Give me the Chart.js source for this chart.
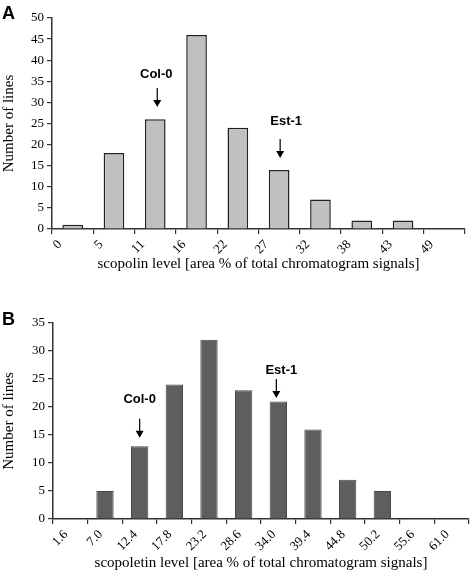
<!DOCTYPE html>
<html>
<head>
<meta charset="utf-8">
<script src="https://cdn.jsdelivr.net/npm/chart.js@4.4.1/dist/chart.umd.min.js"></script>
<style>
  html, body { margin: 0; padding: 0; background: #fff; }
  .panel { position: relative; width: 472px; }
  .letter { position: absolute; left: 2px; font: bold 18px "Liberation Sans", Arial, sans-serif; color: #000; line-height: 18px; }
</style>
</head>
<body>
<div class="panel" style="height:285px">
  <div class="letter" style="top:4px">A</div>
  <canvas id="chartA" width="472" height="285"></canvas>
</div>
<div class="panel" style="height:298px">
  <div class="letter" style="top:25px">B</div>
  <canvas id="chartB" width="472" height="298"></canvas>
</div>
<script>
// scopolin histogram (panel A)
const scopolinBins = ['0', '5', '11', '16', '22', '27', '32', '38', '43', '49'];
const scopolinCounts = [1, 18, 26, 46, 24, 14, 7, 2, 2, 0];
const scopolinTicks = [0, 5, 10, 15, 20, 25, 30, 35, 40, 45, 50];

// scopoletin histogram (panel B)
const scopoletinBins = ['1.6', '7.0', '12.4', '17.8', '23.2', '28.6', '34.0', '39.4', '44.8', '50.2', '55.6', '61.0'];
const scopoletinCounts = [0, 5, 13, 24, 32, 23, 21, 16, 7, 5, 0, 0];
const scopoletinTicks = [0, 5, 10, 15, 20, 25, 30, 35];

const serif = '"Liberation Serif", "Times New Roman", serif';

// arrows with accession names above the bars
const arrowPlugin = {
    id: 'arrows',
    afterDatasetsDraw(chart, args, opts) {
        const ctx = chart.ctx;
        const xs = chart.scales.x, ys = chart.scales.y;
        (opts.items || []).forEach(a => {
            const x = xs.getPixelForValue(a.bin + 0.5) + (a.dx || 0);
            const tip = ys.getPixelForValue(a.tip);
            const top = tip - 19;
            ctx.save();
            ctx.strokeStyle = '#000';
            ctx.fillStyle = '#000';
            ctx.lineWidth = 1.2;
            ctx.beginPath();
            ctx.moveTo(x, top);
            ctx.lineTo(x, tip - 6);
            ctx.stroke();
            ctx.beginPath();
            ctx.moveTo(x - 4, tip - 7);
            ctx.lineTo(x + 4, tip - 7);
            ctx.lineTo(x, tip);
            ctx.closePath();
            ctx.fill();
            ctx.font = 'bold 13px "Liberation Sans", Arial, sans-serif';
            ctx.textAlign = 'center';
            ctx.textBaseline = 'middle';
            ctx.fillText(a.text, x + (a.tx || 0), ys.getPixelForValue(a.label));
            ctx.restore();
        });
    }
};

function makeHist(id, bins, counts, yTicks, title, fill, border, bw, arrows, pad) {
    const points = counts.map((v, i) => ({ x: i + 0.5, y: v }));
    const yMax = yTicks[yTicks.length - 1];
    new Chart(document.getElementById(id), {
        type: 'bar',
        data: {
            datasets: [{
                data: points,
                backgroundColor: fill,
                borderColor: border,
                borderWidth: bw,
                categoryPercentage: 1,
                barPercentage: 0.5
            }]
        },
        plugins: [arrowPlugin],
        options: {
            responsive: false,
            animation: false,
            layout: { padding: { top: pad.top, right: pad.right, bottom: pad.bottom, left: 0 } },
            plugins: {
                legend: { display: false },
                tooltip: { enabled: false },
                arrows: { items: arrows }
            },
            scales: {
                x: {
                    type: 'linear',
                    offset: false,
                    min: 0,
                    max: bins.length,
                    afterFit(s) { s.height = pad.xh; s.paddingRight = 0; },
                    border: { display: true, color: '#333', width: 1.5 },
                    grid: { display: true, offset: false, drawOnChartArea: false, drawTicks: true, tickLength: 5, color: '#333', lineWidth: 1.2 },
                    ticks: {
                        stepSize: 1,
                        autoSkip: false,
                        minRotation: 45,
                        maxRotation: 45,
                        labelOffset: pad.lo,
                        color: '#000',
                        font: { family: serif, size: 13 },
                        callback: v => bins[v] !== undefined ? bins[v] : ''
                    },
                    title: {
                        display: true,
                        text: title,
                        color: '#000',
                        font: { family: serif, size: 15 },
                        padding: { top: 4, bottom: 0 }
                    }
                },
                y: {
                    min: 0,
                    max: yMax,
                    afterFit(s) { s.width = pad.yw; },
                    afterBuildTicks(s) { s.ticks = yTicks.map(v => ({ value: v })); },
                    border: { display: true, color: '#333', width: 1.5 },
                    grid: { display: true, drawOnChartArea: false, drawTicks: true, tickLength: 5, color: '#333', lineWidth: 1.2 },
                    ticks: { color: '#000', font: { family: serif, size: 13 }, padding: 3 },
                    title: {
                        display: true,
                        text: 'Number of lines',
                        color: '#000',
                        font: { family: serif, size: 15 },
                        padding: { top: 0, bottom: 4 }
                    }
                }
            }
        }
    });
}

makeHist('chartA', scopolinBins, scopolinCounts, scopolinTicks,
    'scopolin level [area % of total chromatogram signals]',
    '#c0c0c0', '#222', 1.5,
    [{ text: 'Col-0', bin: 2, tip: 28.9, label: 36.7, dx: 2, tx: -1 },
     { text: 'Est-1', bin: 5, tip: 16.8, label: 25.4, dx: 1, tx: 6 }],
    { top: 18, right: 7, bottom: 12, xh: 44, yw: 52, lo: 8 });

makeHist('chartB', scopoletinBins, scopoletinCounts, scopoletinTicks,
    'scopoletin level [area % of total chromatogram signals]',
    '#5e5e5e', '#4a4a4a', 1,
    [{ text: 'Col-0', bin: 2, tip: 14.5, label: 21.4, dx: 0, tx: 0 },
     { text: 'Est-1', bin: 6, tip: 21.6, label: 26.6, dx: -2, tx: 5 }],
    { top: 38, right: 3, bottom: 11, xh: 53, yw: 53, lo: 13 });
</script>
</body>
</html>
